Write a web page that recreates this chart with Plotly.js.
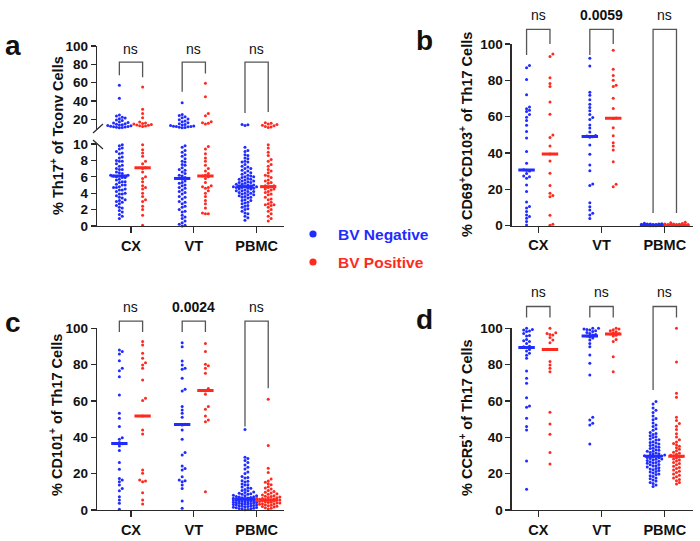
<!DOCTYPE html>
<html><head><meta charset="utf-8">
<script src="https://cdn.plot.ly/plotly-3.0.1.min.js"></script>
<style>html,body{margin:0;padding:0;background:#fff}#chart{width:700px;height:541px}</style>
</head><body><div id="chart"></div>
<script>
// ---------------- DATA ----------------
const tissues = ['CX', 'VT', 'PBMC'];
const groupNames = ['BV Negative', 'BV Positive'];

// Panel a: % Th17+ of Tconv cells
const a_CX_neg = [57.2, 43.1, 24.8, 23.6, 22.3, 21.5, 20.7, 19.4, 18.6, 17.3, 16.5, 15.9, 15.2, 14.7, 14.1, 13.8, 13.2, 12.9, 12.5, 12.2, 11.9, 11.7, 11.4, 11.0, 10.7,
  9.9, 9.8, 9.5, 9.4, 9.1, 8.9, 8.8, 8.4, 8.3, 8.0, 7.9, 7.9, 7.6, 7.4, 7.3, 7.0, 6.9, 6.9, 6.6, 6.5, 6.4, 6.2, 6.2, 6.1, 6.1, 6.0, 5.9, 5.9, 5.7, 5.6, 5.4, 5.4, 5.3, 5.1, 5.0, 5.0, 4.8, 4.7, 4.7, 4.5, 4.4, 4.4, 4.2, 4.0, 3.9, 3.9, 3.7, 3.5, 3.4, 3.2, 3.1, 3.0, 2.9, 2.7, 2.5, 2.3, 2.2, 1.9, 1.7, 1.4, 1.2, 0.9];
const a_CX_pos = [55.4, 31.0, 26.3, 21.8, 17.2, 16.1, 15.4, 14.8, 14.3, 13.9, 13.5, 13.1, 12.6, 12.2,
  9.9, 9.3, 8.9, 8.5, 7.9, 7.6, 7.1, 7.0, 6.6, 6.0, 5.8, 5.4, 4.9, 4.7, 4.5, 4.0, 3.6, 3.2, 3.0, 2.4, 2.0, 1.3, 0.1];
const a_VT_neg = [38.2, 25.3, 24.1, 22.8, 21.7, 20.4, 19.6, 18.3, 17.4, 16.3, 15.2, 14.5, 13.7, 13.2, 12.8, 12.5, 12.3, 12.1, 11.8, 11.5, 11.2, 10.9,
  9.8, 9.6, 9.2, 9.0, 8.7, 8.5, 8.2, 7.9, 7.8, 7.5, 7.4, 7.1, 6.9, 6.8, 6.6, 6.4, 6.2, 6.1, 5.9, 5.8, 5.8, 5.7, 5.5, 5.3, 5.2, 5.0, 4.9, 4.7, 4.6, 4.4, 4.2, 4.1, 3.9, 3.6, 3.5, 3.3, 3.0, 2.9, 2.7, 2.4, 2.3, 2.0, 1.8, 1.7, 1.3, 1.1, 0.9, 0.6, 0.4, 0.2, 0.1, 0.0];
const a_VT_pos = [59.3, 44.6, 26.5, 24.0, 17.3, 16.2, 15.6, 15.0,
  9.7, 9.4, 8.8, 8.3, 7.9, 7.4, 7.0, 6.7, 6.4, 6.2, 6.1, 6.0, 5.8, 5.3, 4.9, 4.8, 4.7, 4.6, 4.3, 4.0, 3.6, 3.1, 2.7, 2.2, 1.6, 1.5, 1.5];
const a_PBMC_neg = [14.5, 14.0, 13.4,
  9.6, 9.2, 9.1, 8.7, 8.6, 8.3, 8.2, 7.9, 7.8, 7.8, 7.5, 7.3, 7.2, 7.0, 7.0, 6.8, 6.7, 6.5, 6.5, 6.3, 6.2, 6.1, 6.0, 6.0, 5.9, 5.8, 5.7, 5.7, 5.6, 5.5, 5.5, 5.4, 5.3, 5.3, 5.2, 5.1, 5.1, 5.0, 5.0, 4.9, 4.9, 4.8, 4.8, 4.8, 4.7, 4.7, 4.6, 4.6, 4.5, 4.5, 4.4, 4.3, 4.3, 4.2, 4.2, 4.1, 4.0, 4.0, 3.9, 3.8, 3.8, 3.7, 3.6, 3.5, 3.5, 3.4, 3.2, 3.1, 3.1, 2.9, 2.8, 2.7, 2.5, 2.4, 2.3, 2.1, 2.0, 1.8, 1.6, 1.5, 1.2, 1.0, 0.7];
const a_PBMC_pos = [16.4, 15.7, 15.0, 14.3, 13.6, 12.9, 12.3, 11.7, 11.2,
  9.9, 9.5, 9.0, 8.6, 8.1, 7.9, 7.5, 7.3, 6.9, 6.7, 6.5, 6.2, 6.1, 5.9, 5.6, 5.5, 5.3, 5.2, 4.9, 4.9, 4.8, 4.7, 4.5, 4.5, 4.4, 4.2, 4.1, 3.9, 3.8, 3.5, 3.3, 3.2, 2.9, 2.7, 2.6, 2.6, 2.5, 2.3, 2.0, 1.8, 1.5, 1.2, 0.9, 0.6];

// Panel b: % CD69+CD103+ of Th17 cells
const b_CX_neg = [88.2, 86.9, 80.4, 72.1, 65.3, 64.4, 63.6, 62.8, 61.2, 59.7, 57.9, 55.3, 51.8, 48.2, 40.8, 34.4, 30.8, 30.5, 30.1, 28.7, 27.4, 26.9, 26.1, 22.4, 18.8, 13.1, 10.6, 9.7, 7.8, 5.9, 5.0, 4.1, 2.3, 0.4];
const b_CX_pos = [94.5, 93.1, 81.4, 78.2, 76.6, 68.1, 61.3, 49.9, 48.5, 43.8, 39.4, 35.6, 28.8, 22.1, 17.8, 16.6, 16.0, 5.8, 0.8, 0.3];
const b_VT_neg = [92.1, 87.9, 73.4, 71.8, 69.3, 66.9, 65.0, 63.2, 61.2, 59.6, 58.4, 55.4, 53.8, 51.6, 49.6, 49.3, 49.0, 48.7, 44.4, 39.3, 33.4, 30.2, 22.9, 22.1, 12.6, 10.4, 8.6, 6.8, 5.9, 3.9];
const b_VT_pos = [96.6, 86.1, 82.6, 80.1, 77.3, 76.6, 70.1, 64.5, 59.3, 59.0, 53.9, 49.5, 45.6, 43.9, 41.6, 35.2, 22.8, 21.4];
const b_PBMC_neg = [1.3, 1.1, 1.0, 0.9, 0.9, 0.8, 0.7, 0.7, 0.7, 0.6, 0.6, 0.5, 0.5, 0.5, 0.4, 0.4, 0.4, 0.4, 0.3, 0.3, 0.3, 0.3, 0.3, 0.2, 0.2, 0.2, 0.2, 0.1, 0.1, 0.1, 0.1, 0.0, 0.0, 0.0];
const b_PBMC_pos = [1.9, 1.6, 1.2, 1.0, 0.9, 0.8, 0.7, 0.6, 0.6, 0.5, 0.5, 0.4, 0.4, 0.3, 0.3, 0.3, 0.2, 0.2, 0.2, 0.1, 0.1, 0.1, 0.0, 0.0];

// Panel c: % CD101+ of Th17 cells
const c_CX_neg = [88.1, 87.2, 85.8, 82.2, 78.0, 76.7, 73.4, 63.3, 53.2, 50.5, 45.9, 39.8, 38.9, 37.1, 36.5, 35.2, 32.7, 26.1, 22.4, 17.4, 16.5, 15.6, 13.8, 11.9, 10.6, 7.3, 5.5, 3.7, 0.4];
const c_CX_pos = [92.7, 90.8, 86.2, 83.5, 81.1, 79.8, 78.0, 71.6, 61.5, 60.2, 51.7, 44.0, 41.8, 22.0, 20.2, 16.5, 15.9, 15.6, 9.5, 5.5, 3.3];
const c_VT_neg = [92.1, 89.9, 82.0, 79.8, 78.0, 77.4, 72.5, 66.4, 65.5, 56.9, 55.0, 53.2, 51.0, 47.2, 46.8, 44.0, 38.9, 31.6, 30.3, 24.2, 22.9, 22.0, 18.3, 16.5, 16.1, 15.6, 13.8, 11.9, 5.0, 0.9];
const c_VT_pos = [91.7, 87.2, 80.2, 79.4, 78.0, 75.2, 66.8, 65.5, 63.7, 56.9, 55.4, 51.7, 49.5, 48.6, 10.1];
const c_PBMC_neg = [44.3, 29.1, 28.4, 27.3, 26.2, 24.8, 23.5, 22.6, 20.9, 20.1, 18.4, 17.9, 17.6, 16.1, 15.8, 15.4, 14.3, 13.9, 13.7, 12.6, 12.2, 12.0, 11.3, 10.8, 10.6, 9.9, 9.7, 9.2, 9.0, 8.7, 8.6, 8.1, 7.9, 7.9, 7.4, 7.3, 7.1, 6.9, 6.8, 6.6, 6.4, 6.3, 6.2, 6.1, 6.1, 6.0, 5.8, 5.8, 5.6, 5.5, 5.5, 5.3, 5.2, 5.0, 4.9, 4.9, 4.7, 4.5, 4.4, 4.3, 4.1, 4.0, 3.9, 3.7, 3.6, 3.4, 3.3, 3.1, 3.0, 2.8, 2.8, 2.5, 2.4, 2.2, 2.0, 1.9, 1.7, 1.5, 1.4, 1.2, 1.0, 0.8, 0.7, 0.5, 0.3, 0.1];
const c_PBMC_pos = [61.0, 35.5, 23.0, 20.6, 17.1, 16.0, 15.3, 14.4, 13.9, 12.8, 12.1, 11.6, 10.7, 10.2, 9.8, 9.3, 8.9, 8.7, 8.2, 7.9, 7.6, 7.4, 7.1, 6.9, 6.8, 6.5, 6.3, 6.1, 5.9, 5.8, 5.7, 5.5, 5.5, 5.4, 5.2, 5.1, 4.9, 4.7, 4.6, 4.3, 4.1, 3.9, 3.8, 3.5, 3.3, 3.1, 2.9, 2.6, 2.4, 2.1, 1.9, 1.6, 1.2, 0.9, 0.6];

// Panel d: % CCR5+ of Th17 cells
const d_CX_neg = [100, 99.4, 99.1, 98.5, 98.2, 97.2, 96.1, 95.8, 93.9, 93.2, 92.7, 91.7, 90.1, 89.9, 89.4, 88.4, 87.5, 86.2, 85.1, 83.5, 76.5, 72.5, 69.7, 61.8, 57.2, 56.5, 50.5, 45.9, 44.0, 27.0, 11.4];
const d_CX_pos = [100, 97.6, 97.2, 96.6, 96.3, 95.0, 93.6, 92.1, 88.4, 81.7, 79.8, 78.0, 76.1, 53.8, 47.3, 41.7, 31.7, 25.3];
const d_VT_neg = [100, 100, 99.6, 99.4, 99.1, 98.6, 98.2, 97.7, 97.1, 96.6, 96.3, 95.8, 95.2, 94.6, 93.6, 91.7, 89.9, 85.3, 80.7, 74.3, 51.0, 49.5, 47.7, 46.8, 36.3];
const d_VT_pos = [100, 99.6, 99.2, 98.7, 98.1, 97.6, 97.0, 96.9, 96.2, 95.8, 93.9, 92.7, 84.4, 76.1];
const d_PBMC_neg = [59.7, 58.3, 56.1, 54.9, 53.6, 51.8, 50.4, 49.7, 47.9, 46.8, 46.0, 44.7, 43.9, 42.6, 42.1, 41.5, 40.8, 40.3, 39.9, 39.1, 38.7, 38.5, 37.6, 37.2, 36.9, 36.3, 35.8, 35.5, 34.9, 34.6, 34.0, 33.8, 33.2, 32.9, 32.4, 32.3, 31.7, 31.4, 31.0, 30.8, 30.3, 30.1, 29.9, 29.7, 29.6, 29.2, 28.9, 28.8, 28.4, 28.1, 27.9, 27.5, 27.3, 26.8, 26.6, 26.2, 25.9, 25.7, 25.1, 24.9, 24.4, 24.2, 23.6, 23.3, 22.8, 22.6, 22.1, 21.7, 21.2, 20.9, 20.3, 19.8, 19.5, 18.9, 18.4, 17.6, 17.2, 16.5, 15.9, 15.1, 14.6, 13.8, 12.9];
const d_PBMC_pos = [100, 81.5, 64.2, 62.0, 51.1, 49.2, 47.6, 46.1, 44.3, 42.0, 40.2, 38.7, 37.4, 36.6, 35.8, 35.1, 34.2, 33.5, 32.6, 31.8, 31.2, 30.7, 30.1, 29.8, 29.5, 29.2, 28.6, 28.1, 27.5, 26.9, 26.2, 25.6, 24.9, 24.1, 23.4, 22.8, 22.0, 21.3, 20.6, 19.8, 19.1, 18.3, 17.6, 16.8, 16.1, 15.2, 14.3];

// medians [CX, VT, PBMC]
const a_med_neg = [6.1, 5.8, 4.8], a_med_pos = [7.1, 6.1, 4.8];
const b_med_neg = [30.6, 49.1, 0.3], b_med_pos = [39.4, 59.1, 0.3];
const c_med_neg = [36.6, 47.0, 6.1], c_med_pos = [51.7, 65.8, 5.5];
const d_med_neg = [89.4, 95.8, 29.6], d_med_pos = [88.3, 96.8, 29.6];

// significance labels and bracket heights (top, neg leg end, pos leg end)
const a_sig = ['ns', 'ns', 'ns'], b_sig = ['ns', '0.0059', 'ns'], c_sig = ['ns', '0.0024', 'ns'], d_sig = ['ns', 'ns', 'ns'];
const a_brTop = 82.5, a_legNeg = [68, 50, 27], a_legPos = [66, 70, 28];
const b_brTop = 108, b_legNeg = [94, 94, 7], b_legPos = [100, 100, 7];
const c_brTop = 104, c_legNeg = [98, 98, 46], c_legPos = [98, 98, 67];
const d_brTop = 112, d_legNeg = [106, 106, 66], d_legPos = [106, 106, 106];

// ---------------- STYLE / LAYOUT ----------------
const FONT = 'Liberation Sans, Arial, Helvetica, sans-serif';
const BLUE = '#1f2bff', RED = '#ff2a1f', AXC = '#2a2a2a', BRC = '#555555';
const COLORS = [BLUE, RED];
const W = 700, H = 541;
const GOFF = 0.185, MEDHALF = 0.13;
const py = p => (H - p) / H;

const P = {
  a: {x: 'x', y: 'y', y2: 'y2', xdom: [97, 284], xr: [-0.541, 2.436], ydom: [226, 144], yr: [0, 10], y2dom: [128.5, 46], y2r: [10, 100],
      sets: [[a_CX_neg, a_CX_pos], [a_VT_neg, a_VT_pos], [a_PBMC_neg, a_PBMC_pos]], med: [a_med_neg, a_med_pos],
      sig: a_sig, brTop: a_brTop, legs: [a_legNeg, a_legPos], sigY: 49},
  b: {x: 'x2', y: 'y3', xdom: [511.7, 693], xr: [-0.42, 2.446], ydom: [225.7, 44], yr: [0, 100],
      sets: [[b_CX_neg, b_CX_pos], [b_VT_neg, b_VT_pos], [b_PBMC_neg, b_PBMC_pos]], med: [b_med_neg, b_med_pos],
      sig: b_sig, brTop: b_brTop, legs: [b_legNeg, b_legPos], sigY: 14.5},
  c: {x: 'x3', y: 'y4', xdom: [97, 284], xr: [-0.541, 2.436], ydom: [510, 328.3], yr: [0, 100],
      sets: [[c_CX_neg, c_CX_pos], [c_VT_neg, c_VT_pos], [c_PBMC_neg, c_PBMC_pos]], med: [c_med_neg, c_med_pos],
      sig: c_sig, brTop: c_brTop, legs: [c_legNeg, c_legPos], sigY: 306.5},
  d: {x: 'x4', y: 'y5', xdom: [511.7, 693], xr: [-0.42, 2.446], ydom: [510, 328.3], yr: [0, 100],
      sets: [[d_CX_neg, d_CX_pos], [d_VT_neg, d_VT_pos], [d_PBMC_neg, d_PBMC_pos]], med: [d_med_neg, d_med_pos],
      sig: d_sig, brTop: d_brTop, legs: [d_legNeg, d_legPos], sigY: 292}
};

// beeswarm offsets in pixels (layout only)
function swarm(vals, pxY, maxHalf) {
  const d = 2.9;
  const order = vals.map((v, i) => i).sort((a, b) => vals[a] - vals[b]);
  const placed = [];
  const off = new Array(vals.length).fill(0);
  const n = Math.floor(maxHalf / d);
  const cands = [0];
  for (let k = 1; k <= n; k++) cands.push(k * d, -k * d);
  for (const i of order) {
    const y = vals[i] * pxY;
    let best = 0, bestScore = -1;
    for (const c of cands) {
      let minD = Infinity;
      for (let j = placed.length - 1; j >= 0; j--) {
        const p = placed[j];
        if (y - p.y > d) break;
        const dd = Math.hypot(c - p.x, y - p.y);
        if (dd < minD) minD = dd;
      }
      if (minD >= d * 0.98) { best = c; break; }
      if (minD > bestScore) { bestScore = minD; best = c; }
    }
    placed.push({x: best, y});
    off[i] = best;
  }
  return off;
}

const traces = [];
const shapes = [];
const annotations = [];

function toPaperY(dom, r, v) {
  const p = dom[0] + (v - r[0]) / (r[1] - r[0]) * (dom[1] - dom[0]);
  return py(p);
}

function addPoints(xa, ya, center, vals, pxX, pxY, color) {
  if (!vals.length) return;
  const off = swarm(vals, pxY, 14);
  traces.push({
    type: 'scatter', mode: 'markers', xaxis: xa, yaxis: ya,
    x: vals.map((v, i) => center + off[i] / pxX), y: vals,
    marker: {size: 3.0, color: color, line: {width: 0}},
    cliponaxis: false, hoverinfo: 'skip', showlegend: false
  });
}

for (const key of ['a', 'b', 'c', 'd']) {
  const p = P[key];
  const pxX = (p.xdom[1] - p.xdom[0]) / (p.xr[1] - p.xr[0]);
  const pxY = (p.ydom[0] - p.ydom[1]) / (p.yr[1] - p.yr[0]);
  for (let t = 0; t < 3; t++) {
    for (let g = 0; g < 2; g++) {
      const center = t + (g === 0 ? -GOFF : GOFF);
      const vals = p.sets[t][g];
      if (p.y2) {
        const lo = vals.filter(v => v <= p.yr[1]);
        const hi = vals.filter(v => v > p.yr[1]);
        addPoints(p.x, p.y, center, lo, pxX, pxY, COLORS[g]);
        const pxY2 = (p.y2dom[0] - p.y2dom[1]) / (p.y2r[1] - p.y2r[0]);
        addPoints(p.x, p.y2, center, hi, pxX, pxY2, COLORS[g]);
      } else {
        addPoints(p.x, p.y, center, vals, pxX, pxY, COLORS[g]);
      }
      const m = p.med[g][t];
      traces.push({
        type: 'scatter', mode: 'lines', xaxis: p.x, yaxis: p.y,
        x: [center - MEDHALF, center + MEDHALF], y: [m, m],
        line: {color: COLORS[g], width: 3}, hoverinfo: 'skip', showlegend: false, cliponaxis: false
      });
    }
    const bdom = p.y2 ? p.y2dom : p.ydom, br = p.y2 ? p.y2r : p.yr;
    const xL = t - GOFF, xR = t + GOFF;
    const yT = toPaperY(bdom, br, p.brTop);
    const yL = toPaperY(bdom, br, p.legs[0][t]);
    const yR = toPaperY(bdom, br, p.legs[1][t]);
    shapes.push({type: 'path', xref: p.x, yref: 'paper',
      path: `M ${xL},${yL} L ${xL},${yT} L ${xR},${yT} L ${xR},${yR}`,
      line: {color: BRC, width: 1.3}});
    const s = p.sig[t];
    annotations.push({xref: p.x, yref: 'paper', x: t, y: py(p.sigY), yanchor: 'middle', xanchor: 'center',
      text: s === 'ns' ? 'ns' : '<b>' + s + '</b>', showarrow: false,
      font: {family: FONT, size: 14, color: '#111'}});
  }
}

function xAxis(p, anchor) {
  return {domain: [p.xdom[0] / W, p.xdom[1] / W], range: p.xr, anchor: anchor,
    tickmode: 'array', tickvals: [0, 1, 2], ticktext: tissues,
    showline: true, linecolor: AXC, linewidth: 1.3, ticks: 'outside', ticklen: 6, tickwidth: 1.3, tickcolor: AXC,
    tickfont: {family: FONT, size: 14.5, color: '#111', weight: 'bold'},
    showgrid: false, zeroline: false, fixedrange: true};
}
function yAxis(dom, r, anchor, tv) {
  return {domain: [py(dom[0]), py(dom[1])], range: r, anchor: anchor,
    tickmode: 'array', tickvals: tv, ticktext: tv.map(String),
    showline: true, linecolor: AXC, linewidth: 1.3, ticks: 'outside', ticklen: 5, tickwidth: 1.3, tickcolor: AXC,
    tickfont: {family: FONT, size: 13.5, color: '#111', weight: 'bold'},
    showgrid: false, zeroline: false, fixedrange: true};
}

const layout = {
  width: W, height: H, margin: {l: 0, r: 0, t: 0, b: 0},
  paper_bgcolor: '#fff', plot_bgcolor: 'rgba(0,0,0,0)', showlegend: false,
  font: {family: FONT, color: '#111'},
  xaxis: xAxis(P.a, 'y'),
  yaxis: yAxis(P.a.ydom, P.a.yr, 'x', [0, 2, 4, 6, 8, 10]),
  yaxis2: yAxis(P.a.y2dom, P.a.y2r, 'x', [20, 40, 60, 80, 100]),
  xaxis2: xAxis(P.b, 'y3'),
  yaxis3: yAxis(P.b.ydom, P.b.yr, 'x2', [0, 20, 40, 60, 80, 100]),
  xaxis3: xAxis(P.c, 'y4'),
  yaxis4: yAxis(P.c.ydom, P.c.yr, 'x3', [0, 20, 40, 60, 80, 100]),
  xaxis4: xAxis(P.d, 'y5'),
  yaxis5: yAxis(P.d.ydom, P.d.yr, 'x4', [0, 20, 40, 60, 80, 100]),
  shapes: shapes, annotations: annotations
};

// axis break marks on panel a
shapes.push({type: 'line', xref: 'paper', yref: 'paper', x0: 93 / W, y0: py(133), x1: 103 / W, y1: py(124), line: {color: AXC, width: 1.2}});
shapes.push({type: 'line', xref: 'paper', yref: 'paper', x0: 93 / W, y0: py(140), x1: 103 / W, y1: py(149), line: {color: AXC, width: 1.2}});

// axis titles
const titles = [
  {t: '% Th17<sup>+</sup> of Tconv Cells', x: 57, y: 136},
  {t: '% CD69<sup>+</sup>CD103<sup>+</sup> of Th17 Cells', x: 466, y: 135},
  {t: '% CD101<sup>+</sup> of Th17 Cells', x: 56, y: 415},
  {t: '% CCR5<sup>+</sup> of Th17 Cells', x: 466, y: 418}
];
for (const ti of titles) {
  annotations.push({xref: 'paper', yref: 'paper', x: ti.x / W, y: py(ti.y), xanchor: 'center', yanchor: 'middle',
    textangle: -90, text: '<b>' + ti.t + '</b>', showarrow: false, font: {family: FONT, size: 14.5, color: '#111'}});
}
// panel letters
const letters = [['a', 13, 45], ['b', 425, 41], ['c', 13, 322], ['d', 424, 320]];
for (const [l, x, y] of letters) {
  annotations.push({xref: 'paper', yref: 'paper', x: x / W, y: py(y), xanchor: 'center', yanchor: 'middle',
    text: '<b>' + l + '</b>', showarrow: false, font: {family: FONT, size: 28, color: '#111'}});
}
// legend
const legY = [234, 262];
for (let g = 0; g < 2; g++) {
  const r = 3.6;
  shapes.push({type: 'circle', xref: 'paper', yref: 'paper', x0: (313 - r) / W, x1: (313 + r) / W,
    y0: py(legY[g] + r), y1: py(legY[g] - r), fillcolor: COLORS[g], line: {width: 0}});
  annotations.push({xref: 'paper', yref: 'paper', x: 336 / W, y: py(legY[g]), xanchor: 'left', yanchor: 'middle',
    text: '<b>' + groupNames[g] + '</b>', showarrow: false, font: {family: FONT, size: 15.5, color: COLORS[g]}});
}

Plotly.newPlot('chart', traces, layout, {staticPlot: true, displayModeBar: false});
</script></body></html>
